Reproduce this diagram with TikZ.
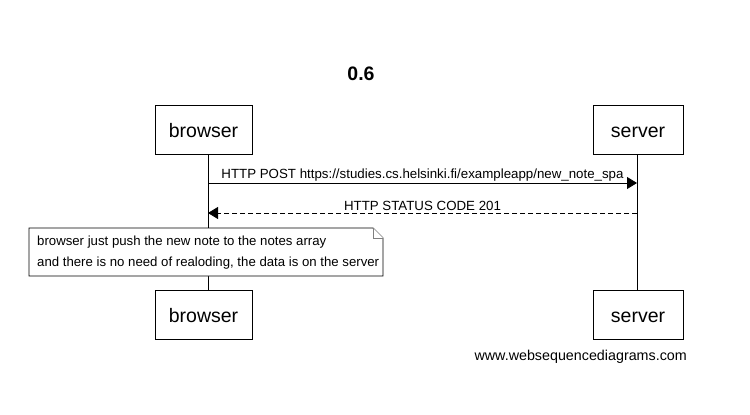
\documentclass[tikz,border=0pt]{standalone}
\usepackage{fontspec}
\setmainfont{Liberation Sans}
\usetikzlibrary{arrows.meta}
\begin{document}
\begin{tikzpicture}[x=1pt,y=-1pt,
  actor/.style={draw,line width=0.8pt,fill=white,minimum width=0pt,minimum height=49pt,inner sep=0pt,text height=17pt,text depth=1pt,font=\fontsize{19.5}{22}\selectfont},
  msg/.style={line width=0.8pt,-{Triangle[length=10pt,width=12pt]}},
  lbl/.style={font=\fontsize{13.3}{15}\selectfont,inner sep=0pt},
  life/.style={line width=0.8pt}]
\useasboundingbox (0,0) rectangle (750,415);
\node[font=\bfseries\fontsize{19.5}{22}\selectfont] (title) at (361,74) {0.6};
\node[actor,minimum width=97pt] (bt) at (203.5,129.5) {browser};
\node[actor,minimum width=90pt] (st) at (638,129.5) {server};
\node[actor,minimum width=97pt] (bb) at (203.5,314.5) {browser};
\node[actor,minimum width=90pt] (sb) at (638,314.5) {server};
\coordinate (bl) at (208,0);
\coordinate (sl) at (637,0);
\draw[life] (bt.south -| bl) -- (bb.north -| bl);
\draw[life] (st.south -| sl) -- (sb.north -| sl);
\coordinate (m1b) at (208,183);
\coordinate (m1s) at (637,183);
\coordinate (m2b) at (208,213);
\coordinate (m2s) at (637,213);
\draw[msg] (m1b) -- (m1s) node[lbl,midway,above=1.5pt] (l1) {HTTP POST https://studies.cs.helsinki.fi/exampleapp/new\_note\_spa};
\draw[msg,dash pattern=on 5pt off 3pt] (m2s) -- (m2b) node[lbl,midway,above=1.5pt] (l2) {HTTP STATUS CODE 201};
% note
\draw[line width=0.8pt,fill=white] (29,228) -- (373,228) -- (383,238) -- (383,276) -- (29,276) -- cycle;
\draw[line width=0.6pt,draw=gray,fill=white] (373,228) -- (373,238) -- (383,238);
\node[lbl,anchor=north west,align=left,font=\fontsize{13.2}{20.5}\selectfont] (note) at (37,236) {browser just push the new note to the notes array\\and there is no need of realoding, the data is on the server};
\node[anchor=east,inner sep=0pt,font=\fontsize{14.3}{16}\selectfont] (foot) at (687,357) {www.websequencediagrams.com};
\end{tikzpicture}
\end{document}
